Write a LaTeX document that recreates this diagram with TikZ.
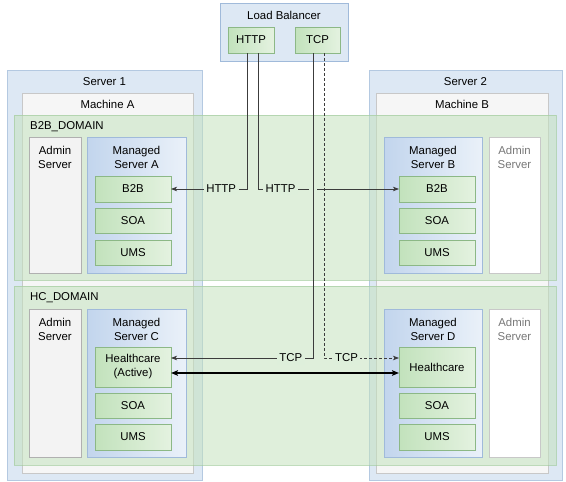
\documentclass[tikz,border=0pt]{standalone}
\usepackage{fontspec}
\setmainfont{Liberation Sans}
\usetikzlibrary{arrows.meta,shadows}
\definecolor{srvfill}{RGB}{221,232,244}
\definecolor{srvdraw}{RGB}{180,201,225}
\definecolor{machfill}{RGB}{246,246,246}
\definecolor{machdraw}{RGB}{200,200,200}
\definecolor{domfill}{RGB}{196,226,190}
\definecolor{domdraw}{RGB}{165,205,160}
\definecolor{msleft}{RGB}{194,213,237}
\definecolor{msright}{RGB}{234,241,249}
\definecolor{msdraw}{RGB}{160,186,218}
\definecolor{cpleft}{RGB}{194,226,188}
\definecolor{cpright}{RGB}{228,242,224}
\definecolor{cpdraw}{RGB}{140,184,134}
\definecolor{adfill}{RGB}{243,243,243}
\definecolor{addraw}{RGB}{176,176,176}
\definecolor{labbg}{RGB}{222,239,219}
\definecolor{lnc}{RGB}{60,60,60}
\definecolor{greytext}{RGB}{120,120,120}
\begin{document}
\begin{tikzpicture}[x=1pt,y=-1pt,
  font=\fontsize{11.4}{14}\selectfont,
  box/.style={anchor=north west, inner sep=0pt, outer sep=0pt, line width=0.8pt},
  shad/.style={drop shadow={shadow xshift=0.7pt, shadow yshift=-0.8pt, fill=black, opacity=0.35}},
  serverbox/.style={box, fill=srvfill, draw=srvdraw},
  machinebox/.style={box, fill=machfill, draw=machdraw},
  domainbox/.style={box, fill=domfill, fill opacity=0.55, draw=domdraw, draw opacity=0.7},
  adminbox/.style={box, shad, fill=adfill, draw=addraw},
  passivebox/.style={box, fill=white, draw=machdraw},
  managedbox/.style={box, shad, left color=msleft, right color=msright, draw=msdraw},
  compbox/.style={box, shad, left color=cpleft, right color=cpright, draw=cpdraw, align=center},
  title/.style={anchor=north, inner sep=0pt, align=center},
  conn/.style={draw=lnc, line width=0.8pt},
  tip/.style={-{Stealth[length=6pt,width=4.5pt,inset=1.5pt]}},
  lbl/.style={fill=labbg, inner sep=2.5pt, text=black}
]
\useasboundingbox (0,0) rectangle (566,482);

% servers and machines
\node[serverbox, minimum width=195pt, minimum height=410pt] (srv1) at (7,70) {};
\node[serverbox, minimum width=193pt, minimum height=410pt] (srv2) at (369,70) {};
\node[machinebox, minimum width=171pt, minimum height=380pt] (macha) at (22,93) {};
\node[machinebox, minimum width=172pt, minimum height=380pt] (machb) at (376,93) {};
\node[anchor=center] (srv1t) at ([yshift=-12pt]srv1.north) {Server 1};
\node[anchor=center] (srv2t) at ([yshift=-12pt]srv2.north) {Server 2};
\node[anchor=center] (machat) at ([yshift=-11pt]macha.north) {Machine A};
\node[anchor=center] (machbt) at ([yshift=-11pt]machb.north) {Machine B};

% domains
\node[domainbox, minimum width=542pt, minimum height=165pt] (domb2b) at (14,115) {};
\node[domainbox, minimum width=542pt, minimum height=179pt] (domhc) at (14,286) {};
\node[anchor=west, inner sep=0pt] (domb2bt) at ([xshift=16pt,yshift=-12pt]domb2b.north west) {B2B\_DOMAIN};
\node[anchor=west, inner sep=0pt] (domhct) at ([xshift=16pt,yshift=-12pt]domhc.north west) {HC\_DOMAIN};

% load balancer
\node[serverbox, shad, minimum width=128pt, minimum height=58pt, draw=msdraw] (lb) at (220,3) {};
\node[anchor=center] (lbt) at ([yshift=-12pt]lb.north) {Load Balancer};
\node[compbox, minimum width=46pt, minimum height=26pt] (lbhttp) at (228,27) {HTTP};
\node[compbox, minimum width=45pt, minimum height=26pt] (lbtcp) at (295,27) {TCP};

% B2B domain contents
\node[adminbox, minimum width=52pt, minimum height=136pt] (adma) at (29,137) {};
\node[title] (admat) at ([yshift=-8.8pt]adma.north) {Admin\\Server};
\node[managedbox, minimum width=99pt, minimum height=136pt] (msa) at (87,137) {};
\node[title] (msat) at ([yshift=-8.8pt]msa.north) {Managed\\Server A};
\node[compbox, minimum width=76pt, minimum height=26pt] (b2ba) at (95,176) {B2B};
\node[compbox, minimum width=76pt, minimum height=25pt] (soaa) at (95,208) {SOA};
\node[compbox, minimum width=76pt, minimum height=25pt] (umsa) at (95,240) {UMS};

\node[managedbox, minimum width=98pt, minimum height=136pt] (msb) at (384,137) {};
\node[title] (msbt) at ([yshift=-8.8pt]msb.north) {Managed\\Server B};
\node[passivebox, minimum width=51pt, minimum height=136pt] (admb) at (489,137) {};
\node[title, text=greytext] (admbt) at ([yshift=-8.8pt]admb.north) {Admin\\Server};
\node[compbox, minimum width=76pt, minimum height=26pt] (b2bb) at (399,176) {B2B};
\node[compbox, minimum width=76pt, minimum height=25pt] (soab) at (399,208) {SOA};
\node[compbox, minimum width=76pt, minimum height=25pt] (umsb) at (399,240) {UMS};

% HC domain contents
\node[adminbox, minimum width=52pt, minimum height=148pt] (admc) at (29,309) {};
\node[title] (admct) at ([yshift=-8.8pt]admc.north) {Admin\\Server};
\node[managedbox, minimum width=99pt, minimum height=148pt] (msc) at (87,309) {};
\node[title] (msct) at ([yshift=-8.8pt]msc.north) {Managed\\Server C};
\node[compbox, minimum width=76pt, minimum height=40pt] (hcc) at (95,347) {Healthcare\\(Active)};
\node[compbox, minimum width=76pt, minimum height=25pt] (soac) at (95,393) {SOA};
\node[compbox, minimum width=76pt, minimum height=26pt] (umsc) at (95,424) {UMS};

\node[managedbox, minimum width=98pt, minimum height=148pt] (msd) at (384,309) {};
\node[title] (msdt) at ([yshift=-8.8pt]msd.north) {Managed\\Server D};
\node[passivebox, minimum width=51pt, minimum height=148pt] (admd) at (489,309) {};
\node[title, text=greytext] (admdt) at ([yshift=-8.8pt]admd.north) {Admin\\Server};
\node[compbox, minimum width=76pt, minimum height=40pt] (hcd) at (399,347) {Healthcare};
\node[compbox, minimum width=76pt, minimum height=25pt] (soad) at (399,393) {SOA};
\node[compbox, minimum width=76pt, minimum height=26pt] (umsd) at (399,424) {UMS};

% connectors
\draw[conn, tip, dashed, dash pattern=on 3pt off 2pt] ([xshift=6.5pt]lbtcp.south) |- node[lbl, pos=0.65] {TCP} ([yshift=9pt]hcd.west);
\draw[conn, tip] ([xshift=7pt]lbhttp.south) |- node[lbl, pos=0.58] {HTTP} (b2bb.west);
\fill[labbg] (309,186) rectangle (317,192);
\draw[conn, tip] ([xshift=-4.5pt]lbtcp.south) |- node[lbl, pos=0.578] {TCP} ([yshift=9pt]hcc.east);
\draw[conn, tip] ([xshift=-4pt]lbhttp.south) |- node[lbl, pos=0.67] {HTTP} (b2ba.east);
\draw[line width=1.6pt, {Stealth[length=7pt,width=5.5pt,inset=1.5pt]}-{Stealth[length=7pt,width=5.5pt,inset=1.5pt]}] ([yshift=-6pt]hcc.east) -- ([yshift=-6pt]hcd.west);
\end{tikzpicture}
\end{document}
